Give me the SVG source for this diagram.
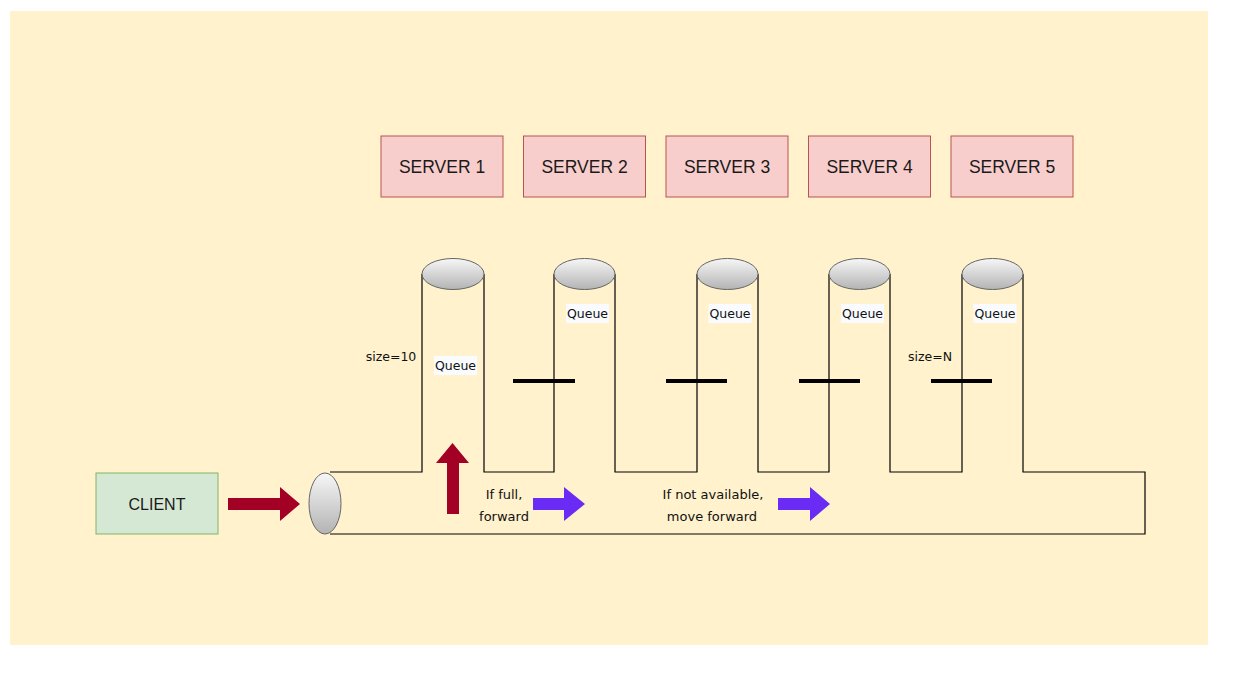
<svg xmlns="http://www.w3.org/2000/svg" width="1240" height="684" viewBox="0 0 1240 684">
<defs>
<linearGradient id="g" x1="0" y1="0" x2="0" y2="1">
<stop offset="0" stop-color="#f7f7f7"/>
<stop offset="1" stop-color="#b3b3b3"/>
</linearGradient>
<style>
.srv rect{fill:#f8cecc;stroke:#b85450;stroke-width:1}
.srv text,.cl text{font-family:"Liberation Sans",Arial,sans-serif;font-size:17.5px;fill:#1a1a1a;text-anchor:middle}
.cl rect{fill:#d5e8d4;stroke:#82b366;stroke-width:1}
.cyl{fill:url(#g);stroke:#666;stroke-width:1}
.lbl{font-family:"DejaVu Sans",sans-serif;font-size:12.5px;fill:#111;text-anchor:middle}
.big{font-size:13px}
.qb{fill:#f9fbff}
.bar{stroke:#000;stroke-width:4}
.red{fill:#a20025}
.pur{fill:#6a2cf5}
</style>
</defs>
<rect x="10" y="11" width="1198" height="634" fill="#fff2cc"/>

<g id="connectors">
<path d="M330,472 H422 V274 M484,274 V472 H554 V274 M615,274 V472 H697 V274 M758,274 V472 H829 V274 M890,274 V472 H962 V274 M1023,274 V472 H1145 V534 H330" fill="none" stroke="#000" stroke-width="1.2"/>
<path class="red" d="M228,498 H280 V487 L300,504 L280,521 V510 H228 Z"/>
<path class="red" d="M447,514 V463 H436 L452.5,443 L469,463 H459 V514 Z"/>
<path class="pur" d="M533,498 H564 V487 L585,504 L564,521 V510 H533 Z"/>
<path class="pur" d="M778,498 H810 V487 L830,504 L810,521 V510 H778 Z"/>
</g>

<g id="bars">
<line class="bar" x1="513" y1="381" x2="575" y2="381"/>
<line class="bar" x1="666" y1="381" x2="727" y2="381"/>
<line class="bar" x1="799" y1="381" x2="860" y2="381"/>
<line class="bar" x1="931" y1="381" x2="992" y2="381"/>
</g>

<g id="client" class="cl">
<rect x="96" y="473" width="122" height="61"/>
<text x="157" y="509.5" style="font-size:16px">CLIENT</text>
</g>

<g id="entry"><ellipse class="cyl" cx="325" cy="503.5" rx="16" ry="30.5"/></g>

<g id="server1" class="srv"><rect x="381" y="136" width="122" height="61"/><text x="442" y="173">SERVER 1</text></g>
<g id="server2" class="srv"><rect x="523.5" y="136" width="122" height="61"/><text x="584.5" y="173">SERVER 2</text></g>
<g id="server3" class="srv"><rect x="666" y="136" width="122" height="61"/><text x="727" y="173">SERVER 3</text></g>
<g id="server4" class="srv"><rect x="808.5" y="136" width="122" height="61"/><text x="869.5" y="173">SERVER 4</text></g>
<g id="server5" class="srv"><rect x="951" y="136" width="122" height="61"/><text x="1012" y="173">SERVER 5</text></g>

<g id="queue1"><ellipse class="cyl" cx="453" cy="274" rx="31" ry="15.5"/><rect class="qb" x="434" y="356" width="43" height="19"/><text class="lbl" x="455.5" y="370">Queue</text></g>
<g id="queue2"><ellipse class="cyl" cx="584.5" cy="274" rx="30.5" ry="15.5"/><rect class="qb" x="566" y="304" width="43" height="19"/><text class="lbl" x="587.5" y="318">Queue</text></g>
<g id="queue3"><ellipse class="cyl" cx="727.5" cy="274" rx="30.5" ry="15.5"/><rect class="qb" x="708.5" y="304" width="43" height="19"/><text class="lbl" x="730" y="318">Queue</text></g>
<g id="queue4"><ellipse class="cyl" cx="859.5" cy="274" rx="30.5" ry="15.5"/><rect class="qb" x="841" y="304" width="43" height="19"/><text class="lbl" x="862.5" y="318">Queue</text></g>
<g id="queue5"><ellipse class="cyl" cx="992.5" cy="274" rx="30.5" ry="15.5"/><rect class="qb" x="973.5" y="304" width="43" height="19"/><text class="lbl" x="995" y="318">Queue</text></g>

<g id="labels">
<text class="lbl" x="391" y="361">size=10</text>
<text class="lbl" x="930" y="361">size=N</text>
<text class="lbl big" x="504" y="499">If full,</text>
<text class="lbl big" x="504" y="521">forward</text>
<text class="lbl big" x="713" y="499">If not available,</text>
<text class="lbl big" x="712" y="521">move forward</text>
</g>
</svg>
